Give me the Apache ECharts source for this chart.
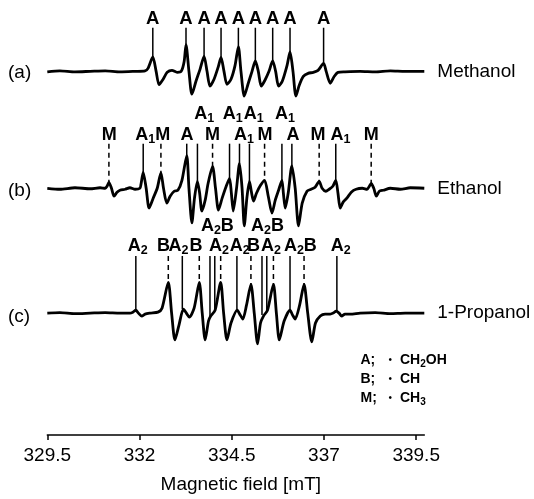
<!DOCTYPE html>
<html><head><meta charset="utf-8">
<script src="https://cdn.jsdelivr.net/npm/echarts@6/dist/echarts.min.js"></script>
<style>html,body{margin:0;padding:0;background:#fff}#c{width:534px;height:499px}</style>
</head><body><div id="c"></div>
<script>
const FONT = '"Liberation Sans", Arial, sans-serif';

// x axis tick labels (mT)
const tickValues = [329.5, 332, 334.5, 337, 339.5];
const sampleNames = ['Methanol', 'Ethanol', '1-Propanol'];
const panelTags = ['(a)', '(b)', '(c)'];

// ESR derivative spectra: [magnetic field mT, signal (arb.)]
const methanol = [[329.5,-0.5],[329.84,0.5],[330.25,-0.5],[330.66,0],[331.07,0.5],[331.47,-0.5],[331.88,0],[332.15,0.5],[332.23,3],[332.36,14.5],[332.45,0],[332.53,-13.5],[332.64,-8],[332.75,-1],[332.88,1],[333.02,-1],[333.13,0],[333.21,10],[333.26,27],[333.34,0],[333.42,-23],[333.53,-10],[333.64,2],[333.75,15],[333.83,0],[333.91,-15],[334.02,-8],[334.13,4],[334.21,14],[334.29,0],[334.37,-13],[334.48,-8],[334.59,6],[334.68,25],[334.75,0],[334.84,-25],[334.94,-13],[335.05,0],[335.14,10.5],[335.22,0],[335.30,-15],[335.40,-9],[335.51,0],[335.61,10.5],[335.69,0],[335.77,-15],[335.87,-10],[336.00,6],[336.08,19.5],[336.16,0],[336.24,-25],[336.33,-14],[336.44,-5],[336.57,-2],[336.71,-1],[336.84,1],[336.99,8],[337.06,0],[337.17,-12],[337.28,-5],[337.38,-1],[337.57,-0.5],[337.98,0],[338.39,-0.5],[338.80,0.5],[339.20,0],[339.72,0]];

const ethanol = [[329.5,0],[329.84,-1],[330.25,0.5],[330.66,-0.5],[330.93,0.5],[331.07,0],[331.12,2],[331.17,6],[331.24,0],[331.31,-8],[331.39,-4],[331.47,-2],[331.61,-1],[331.74,0.5],[331.88,-1],[332.01,0],[332.04,4],[332.10,16],[332.18,0],[332.26,-20],[332.37,-10],[332.48,0],[332.58,15.5],[332.65,0],[332.74,-15],[332.83,-8],[332.94,-3],[333.04,-2],[333.15,8],[333.28,33],[333.34,0],[333.42,-35],[333.49,-10],[333.57,7],[333.63,-5],[333.69,-23],[333.78,-12],[333.86,5],[333.98,22],[334.06,0],[334.14,-22],[334.24,-10],[334.35,2],[334.44,10],[334.49,-5],[334.54,-23],[334.63,0],[334.71,25],[334.78,0],[334.84,-38],[334.91,-10],[334.98,7],[335.03,-3],[335.09,-13],[335.17,-5],[335.28,3],[335.39,8],[335.49,-8],[335.59,-25],[335.68,-12],[335.77,-2],[335.86,8],[335.90,-5],[335.95,-20],[336.03,-5],[336.13,22.5],[336.22,0],[336.31,-38],[336.41,-15],[336.54,-3],[336.65,-1],[336.76,1],[336.87,7],[336.95,0],[337.05,-3],[337.14,-1],[337.24,2],[337.32,8],[337.38,-5],[337.44,-20],[337.52,-14],[337.62,-10],[337.74,-4],[337.87,-1],[338.04,0],[338.17,-1],[338.23,2],[338.28,5],[338.35,0],[338.42,-8],[338.50,-3],[338.61,-2],[338.80,0],[339.07,-1],[339.34,0.5],[339.72,0]];

const propanol = [[329.5,0],[329.84,0.5],[330.25,-0.5],[330.66,0],[331.07,0.5],[331.47,0],[331.74,0],[331.82,1],[331.90,3],[331.97,0],[332.06,-3],[332.15,-1],[332.29,0],[332.50,1],[332.61,5],[332.78,31],[332.87,0],[332.96,-27],[333.07,-12],[333.19,4],[333.27,0],[333.35,-4],[333.48,5],[333.62,31],[333.70,0],[333.78,-27],[333.87,-8],[333.93,-3],[334.05,3],[334.20,31],[334.28,0],[334.37,-27],[334.48,-10],[334.65,3],[334.73,-2],[334.80,-6],[334.90,8],[335.02,29],[335.11,0],[335.20,-31],[335.28,-10],[335.36,-3],[335.47,3],[335.63,29],[335.71,0],[335.79,-27],[335.92,-8],[336.08,3],[336.15,-2],[336.22,-6],[336.34,8],[336.46,29],[336.56,0],[336.67,-29],[336.77,-10],[336.90,-3],[337.03,-1],[337.17,-1],[337.25,0],[337.33,2],[337.41,0],[337.48,-3],[337.57,-1],[337.71,-1],[337.98,0],[338.39,0.5],[338.80,-0.5],[339.20,0],[339.72,0]];

// assignment marker lines: [field, peak signal, dashed(1)/solid(0)]
const methanolMarks = [[332.36,14.5,0],[333.26,27,0],[333.75,15,0],[334.21,14,0],[334.68,25,0],[335.14,10.5,0],[335.61,10.5,0],[336.08,19.5,0],[336.99,8,0]];
const ethanolMarks = [[331.17,6,1],[332.10,16,0],[332.58,15.5,1],[333.28,33,0],[333.57,7,0],[333.98,22,1],[334.44,10,0],[334.71,25,0],[334.98,7,0],[335.39,8,1],[335.86,8,0],[336.13,22.5,0],[336.87,7,1],[337.32,8,0],[338.28,5,1]];
const propanolMarks = [[331.90,3,0],[332.78,31,1],[333.16,4,0],[333.62,31,1],[333.91,-3,0],[334.04,3,0],[334.20,31,1],[334.64,3,0],[335.02,29,1],[335.32,-2,0],[335.45,3,0],[335.63,29,1],[336.08,3,0],[336.46,29,1],[337.35,2,0]];

// assignment labels: [field of first letter, row, text]
const methanolLabels = [[332.36,0,'A'],[333.26,0,'A'],[333.75,0,'A'],[334.21,0,'A'],[334.68,0,'A'],[335.14,0,'A'],[335.61,0,'A'],[336.08,0,'A'],[336.99,0,'A']];
const ethanolLabels = [[331.18,0,'M'],[332.06,0,'A1'],[332.63,0,'M'],[333.29,0,'A'],[333.98,0,'M'],[334.74,0,'A1'],[335.40,0,'M'],[336.16,0,'A'],[336.84,0,'M'],[337.35,0,'A1'],[338.28,0,'M'],
  [333.66,1,'A1'],[334.43,1,'A1'],[335.00,1,'A1'],[335.85,1,'A1']];
const propanolLabels = [[331.86,0,'A2'],[332.65,0,'B'],[332.96,0,'A2'],[333.53,0,'B'],[334.06,0,'A2'],[334.62,0,'A2'],[335.09,0,'B'],[335.47,0,'A2'],[336.09,0,'A2'],[336.63,0,'B'],[337.36,0,'A2'],
  [333.84,1,'A2B'],[335.20,1,'A2B']];

// legend of radicals
const legendKeys = ['A', 'B', 'M'];
const legendRadicals = ['CH2OH', 'CH', 'CH3'];

// ---- layout (vertical stacking in plot units, 1 unit = 1px) ----
const panels = [
  {data: methanol, marks: methanolMarks, labels: methanolLabels, offset: 367, lineTop: 411, rows: [419.5], fs: 18.5},
  {data: ethanol, marks: ethanolMarks, labels: ethanolLabels, offset: 249, lineTop: 294, rows: [302.3, 324], fs: 18},
  {data: propanol, marks: propanolMarks, labels: propanolLabels, offset: 123, lineTop: 180.7, rows: [191, 210.7], fs: 18}
];

const series = [];
const markData = [];
const labelItems = [];
panels.forEach((p, i) => {
  series.push({
    type: 'line', name: sampleNames[i], symbol: 'none', smooth: 0.25,
    data: p.data.map(d => [d[0], d[1] + p.offset]),
    lineStyle: {color: '#000', width: 2.8},
    endLabel: {show: true, formatter: sampleNames[i], distance: 13, color: '#000', fontSize: 19, fontFamily: FONT},
    z: 3
  });
  p.marks.forEach(m => markData.push([m[0], p.lineTop, p.offset + m[1], m[2]]));
  p.labels.forEach(l => labelItems.push({f: l[0], y: p.rows[l[1]], text: l[2], fs: p.fs}));
});

series.push({
  type: 'custom', coordinateSystem: 'cartesian2d', encode: {x: 0, y: 1},
  data: markData, z: 2,
  renderItem: (params, api) => {
    const a = api.coord([api.value(0), api.value(1)]);
    const b = api.coord([api.value(0), api.value(2)]);
    return {type: 'line', shape: {x1: a[0], y1: a[1], x2: b[0], y2: b[1]},
      style: {stroke: '#000', lineWidth: 1.5, lineDash: api.value(3) ? [5, 4] : null}};
  }
});

series.push({
  type: 'custom', coordinateSystem: 'cartesian2d', encode: {x: 0, y: 1},
  data: labelItems.map(it => [it.f, it.y]), z: 4,
  renderItem: (params, api) => {
    const it = labelItems[params.dataIndex];
    const pt = api.coord([it.f, it.y]);
    const w = (it.text[0] === 'M' ? 0.833 : 0.722) * it.fs;
    return {type: 'text', x: pt[0] - w / 2, y: pt[1],
      style: {text: it.text.replace(/(\d)/g, '{s|$1}'), fill: '#000', fontSize: it.fs, fontWeight: 'bold',
        fontFamily: FONT, align: 'left', verticalAlign: 'middle', lineHeight: 22,
        rich: {s: {fontSize: 12.5, fontWeight: 'bold', fontFamily: FONT, lineHeight: 12, verticalAlign: 'bottom', fill: '#000'}}}};
  }
});

const graphic = [];
[73, 191, 317].forEach((y, i) => graphic.push({type: 'text', x: 8, y: y,
  style: {text: panelTags[i], fill: '#000', fontSize: 19, fontFamily: FONT, verticalAlign: 'middle'}}));
legendKeys.forEach((k, i) => {
  const y = 360 + i * 19;
  graphic.push({type: 'text', x: 360.5, y: y, style: {text: k + ';', fill: '#000', fontSize: 14, fontWeight: 'bold', fontFamily: FONT, verticalAlign: 'middle'}});
  graphic.push({type: 'text', x: 388.5, y: y, style: {text: '\u2022', fill: '#000', fontSize: 10, fontFamily: FONT, verticalAlign: 'middle'}});
  graphic.push({type: 'text', x: 400, y: y, style: {text: legendRadicals[i].replace(/(\d)/g, '{s|$1}'), fill: '#000', fontSize: 14, fontWeight: 'bold',
    fontFamily: FONT, verticalAlign: 'middle', lineHeight: 18,
    rich: {s: {fontSize: 10, fontWeight: 'bold', fontFamily: FONT, lineHeight: 10, verticalAlign: 'bottom', fill: '#000'}}}});
});

const chart = echarts.init(document.getElementById('c'), null, {renderer: 'canvas'});
chart.setOption({
  animation: false,
  backgroundColor: '#fff',
  grid: {left: 47.3, right: 109.7, top: 0, bottom: 60, containLabel: false},
  xAxis: {
    type: 'value', min: 329.5, max: 339.72,
    name: 'Magnetic field [mT]', nameLocation: 'middle', nameGap: 40,
    nameTextStyle: {color: '#000', fontSize: 19, fontFamily: FONT, padding: [0, 0, 0, 10]},
    axisLine: {lineStyle: {color: '#000', width: 1.5}},
    axisTick: {show: true, length: 5, inside: false, customValues: tickValues, lineStyle: {color: '#000', width: 1.5}},
    axisLabel: {customValues: tickValues, color: '#000', fontSize: 19, fontFamily: FONT, margin: 11},
    splitLine: {show: false}
  },
  yAxis: {type: 'value', min: 0, max: 439, show: false},
  graphic: graphic,
  series: series
});
</script></body></html>
